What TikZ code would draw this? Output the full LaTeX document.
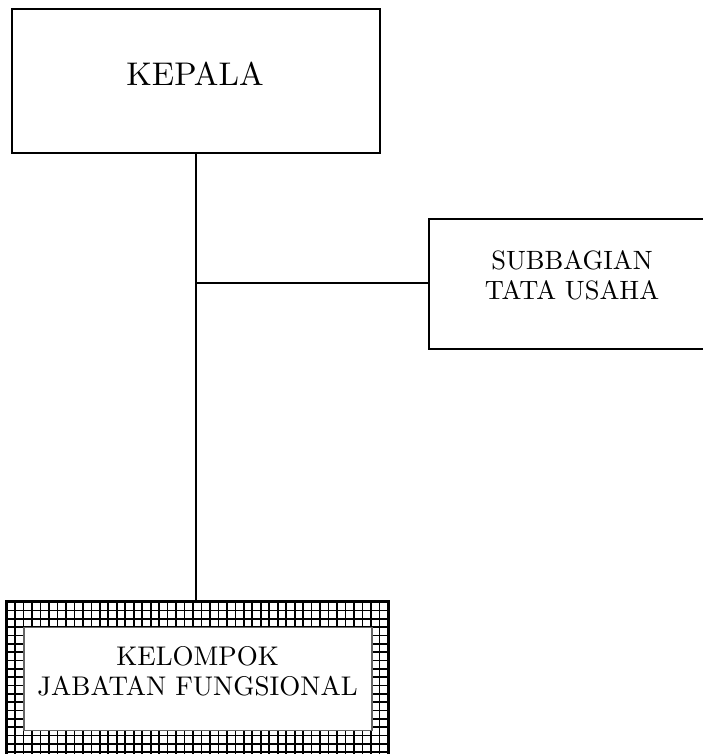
\documentclass[tikz,border=0pt]{standalone}
\usepackage{fontspec}
\setmainfont{lmroman10-regular.otf}
\begin{document}
\begin{tikzpicture}[x=1pt,y=-1pt,
  box/.style={draw=black,line width=1.8pt,fill=white,inner sep=0pt,rectangle},
  conn/.style={draw=black,line width=1.7pt},
  gridline/.style={draw=black,line width=1.7pt},
  lbl/.style={inner sep=0pt,align=center,anchor=base}]
\useasboundingbox (0,0) rectangle (702,754);
% boxes
\node[box,minimum width=368pt,minimum height=144pt] (kepala) at (196,81.3) {};
\node[box,minimum width=285.4pt,minimum height=130pt] (sub) at (572,284.3) {};
% patterned frame of bottom box
\node[draw=black,line width=1.7pt,inner sep=0pt,minimum width=381.3pt,minimum height=154pt] (fung) at (197.35,679) {};
\begin{scope}
\clip (fung.north west) rectangle (fung.south east);
\foreach \i in {0,...,45} \draw[gridline] (6.7+\i*8.47,602) -- (6.7+\i*8.47,756);
\foreach \j in {0,...,18} \draw[gridline] (6.7,602+\j*8.35) -- (388,602+\j*8.35);
\end{scope}
\draw[line width=1.7pt] (fung.north west) rectangle (fung.south east);
\node[draw=black!60,line width=1.1pt,fill=white,inner sep=0pt,minimum width=348pt,minimum height=103.7pt] (fungin) at (198,678.9) {};
% texts
\node[lbl,font=\fontsize{32.8}{39}\selectfont] (tkepala) at (195,86) {KEPALA};
\node[lbl,font=\fontsize{26.5}{30}\selectfont] (tsub) at (572,299.3) {SUBBAGIAN\\TATA USAHA};
\node[lbl,font=\fontsize{27}{29.3}\selectfont] (tfung) at (197.6,695) {KELOMPOK\\JABATAN FUNGSIONAL};
% connectors
\coordinate (junc) at (kepala.south |- 0,282.7);
\draw[conn] (kepala.south) -- (kepala.south |- fung.north);
\draw[conn] (junc) -- (junc -| sub.west);
\end{tikzpicture}
\end{document}
